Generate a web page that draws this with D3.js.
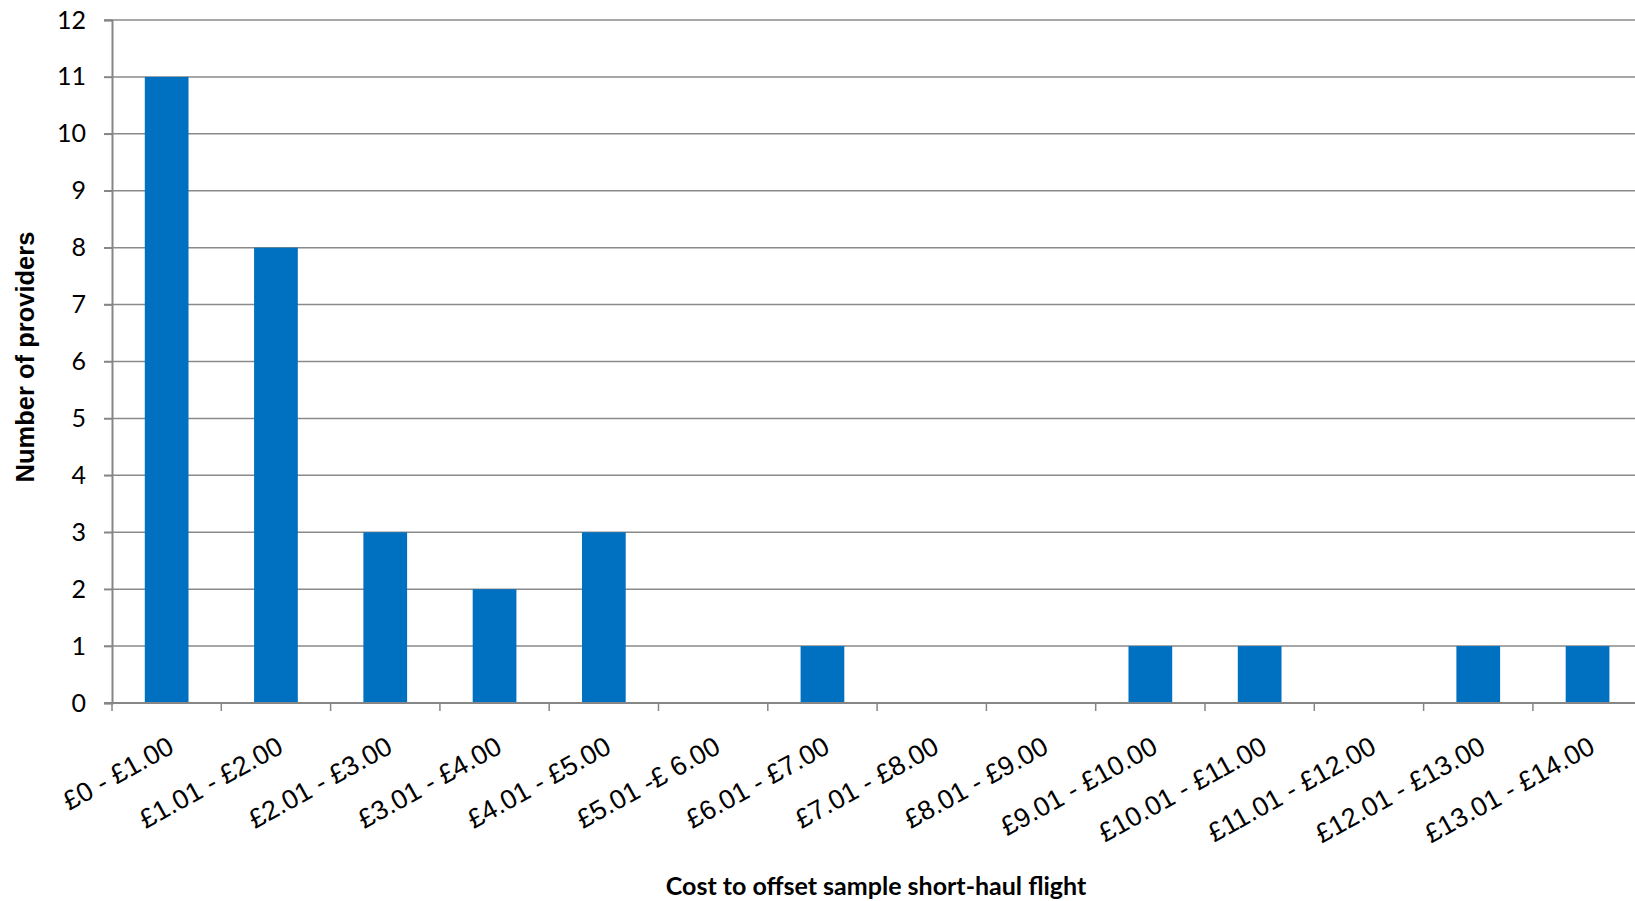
<!DOCTYPE html>
<html><head><meta charset="utf-8">
<script src="https://cdn.jsdelivr.net/npm/d3@7"></script>
<style>body{margin:0;background:#fff}svg{display:block}</style>
</head><body>
<script>
const categories = ["£0 - £1.00","£1.01 - £2.00","£2.01 - £3.00","£3.01 - £4.00","£4.01 - £5.00","£5.01 -£ 6.00","£6.01 - £7.00","£7.01 - £8.00","£8.01 - £9.00","£9.01 - £10.00","£10.01 - £11.00","£11.01 - £12.00","£12.01 - £13.00","£13.01 - £14.00"];
const values = [11,8,3,2,3,0,1,0,0,1,1,0,1,1];
const yTicks = [0,1,2,3,4,5,6,7,8,9,10,11,12];
const xTitle = "Cost to offset sample short-haul flight";
const yTitle = "Number of providers";

(function(){
const W = 1635, H = 901;
const mLeft = 112, mTop = 20, mBottom = 703;
const bandW = 109.3;
const svg = d3.select("body").append("svg").attr("width", W).attr("height", H);

const x = d3.scaleBand().domain(categories).range([mLeft, mLeft + bandW*categories.length]).paddingInner(0.6).paddingOuter(0.3);
const y = d3.scaleLinear().domain([0,12]).range([mBottom, mTop]);

svg.append("g").selectAll("line").data(yTicks.filter(d=>d>0)).join("line")
  .attr("x1", mLeft-8).attr("x2", mLeft + bandW*categories.length)
  .attr("y1", d=>y(d)).attr("y2", d=>y(d))
  .attr("stroke", "#8a8a8a").attr("stroke-width", 1.5);

svg.append("g").selectAll("rect").data(values).join("rect")
  .attr("x", (d,i)=>x(categories[i]))
  .attr("width", x.bandwidth())
  .attr("y", d=>y(d))
  .attr("height", d=>mBottom - y(d))
  .attr("fill", "#0070c0");

const yAxis = svg.append("g").attr("transform", `translate(${mLeft},0)`)
  .call(d3.axisLeft(y).tickValues(yTicks).tickSize(8).tickPadding(18).tickFormat(d3.format("d")));
yAxis.select(".domain").attr("stroke", "#868686").attr("stroke-width", 2);
yAxis.selectAll(".tick line").attr("stroke", "#868686").attr("stroke-width", 1.5);
yAxis.selectAll(".tick text").attr("font-family", "Lato, 'Open Sans', sans-serif").attr("font-size", 25).attr("fill", "#000");

const xTickPos = d3.range(categories.length+1).map(i => mLeft + i*bandW);
const xAxisG = svg.append("g");
xAxisG.append("line").attr("x1", mLeft-8).attr("x2", mLeft + bandW*categories.length)
  .attr("y1", mBottom).attr("y2", mBottom).attr("stroke", "#868686").attr("stroke-width", 2);
xAxisG.selectAll("line.t").data(xTickPos).join("line").attr("class","t")
  .attr("x1", d=>d).attr("x2", d=>d).attr("y1", mBottom).attr("y2", mBottom+8)
  .attr("stroke", "#868686").attr("stroke-width", 1.5);
xAxisG.selectAll("text").data(categories).join("text")
  .attr("transform", d => `translate(${x(d)+x.bandwidth()/2+9},${mBottom+49}) rotate(-29)`)
  .attr("text-anchor", "end")
  .attr("font-family", "'Liberation Sans', Arial, Helvetica, sans-serif")
  .attr("font-size", 27).attr("fill", "#000")
  .text(d=>d);

svg.append("text").attr("x", 876).attr("y", 895).attr("text-anchor", "middle")
  .attr("font-family", "Lato, 'Open Sans', sans-serif").attr("font-weight", "bold").attr("font-size", 25)
  .text(xTitle);
svg.append("text").attr("transform", "translate(34,357) rotate(-90)").attr("text-anchor", "middle")
  .attr("font-family", "'Liberation Sans', Arial, Helvetica, sans-serif").attr("font-weight", "bold").attr("font-size", 25.5)
  .text(yTitle);
})();
</script>
</body></html>
